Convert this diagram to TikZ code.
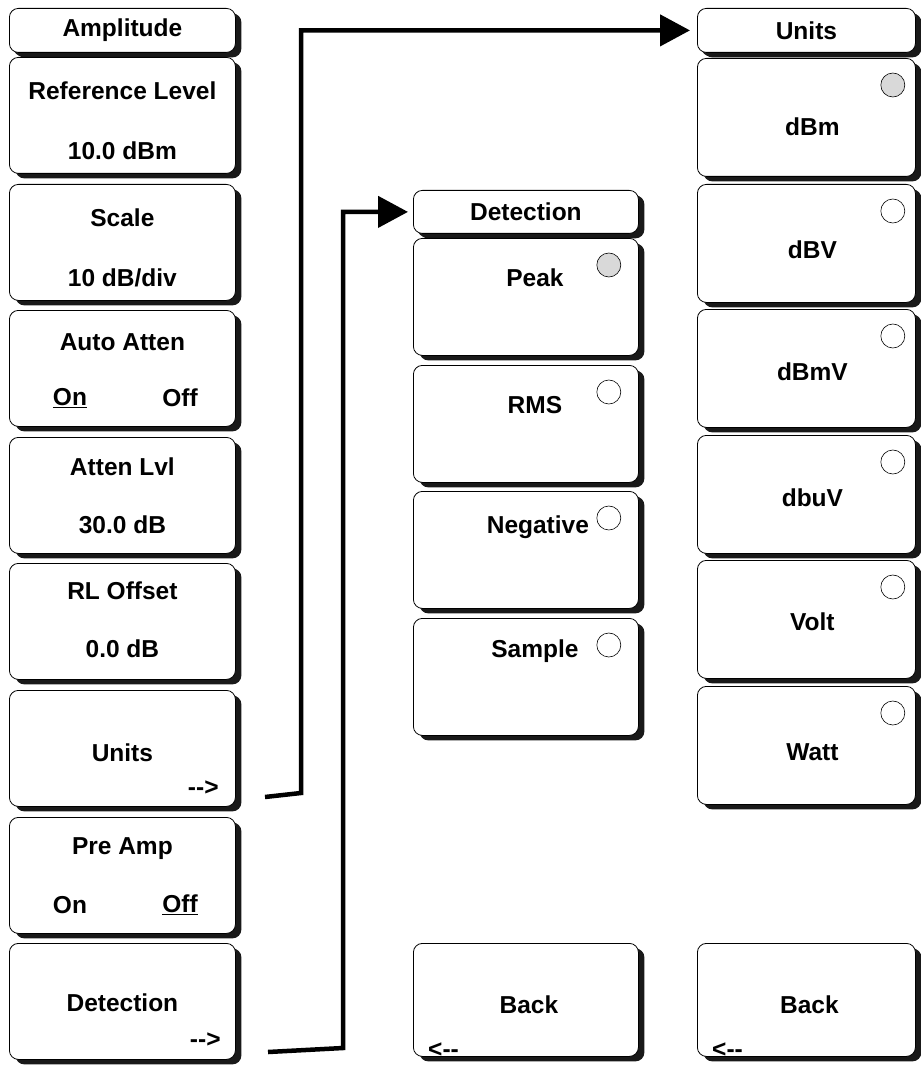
\documentclass[tikz,border=0pt]{standalone}
\usepackage{fontspec}
\setmainfont{Liberation Sans}
\usetikzlibrary{arrows.meta, shadows}

\newcommand{\twodash}{-\kern0pt-}

\begin{document}
\begin{tikzpicture}[x=1pt, y=-1pt,
    softkey/.style = {draw, fill=white, line width=0.8pt, rounded corners=9pt,
        anchor=north west, inner sep=0pt,
        drop shadow={shadow xshift=6pt, shadow yshift=-5pt, opacity=1, fill=black!90}},
    titlekey/.style = {softkey, minimum height=44pt,
        drop shadow={shadow xshift=4pt, shadow yshift=-4pt, opacity=1, fill=black!90}},
    leftkey/.style = {softkey, minimum width=226pt, minimum height=116pt},
    midkey/.style = {softkey, minimum width=225pt, minimum height=117pt},
    rightkey/.style = {softkey, minimum width=218pt, minimum height=118pt},
    keytext/.style = {font=\fontsize{24.5}{29}\selectfont\bfseries, inner sep=0pt},
    radio/.style = {draw, circle, fill=white, minimum size=24pt, inner sep=0pt, line width=0.6pt},
    picked/.style = {radio, fill=black!15},
    link/.style = {line width=4.5pt, -{Triangle[length=30pt, width=31pt]}}]

    \useasboundingbox (0,0) rectangle (920,1067);

    % amplitude menu
    \node[titlekey, minimum width=226pt] (amp) at (9,8) {};
    \node[keytext] at (amp.center) {Amplitude};

    \node[leftkey] (refLvl) at (9,57) {};
    \node[keytext] at ([yshift=-34pt]refLvl.north) {Reference Level};
    \node[keytext] at ([yshift=-94pt]refLvl.north) {10.0 dBm};

    \node[leftkey] (scale) at (9,184) {};
    \node[keytext] at ([yshift=-34pt]scale.north) {Scale};
    \node[keytext] at ([yshift=-94pt]scale.north) {10 dB/div};

    \node[leftkey] (autoAtt) at (9,310) {};
    \node[keytext] at ([yshift=-32pt]autoAtt.north) {Auto Atten};
    \node[keytext] at ([xshift=61pt, yshift=-88pt]autoAtt.north west) {\underline{On}};
    \node[keytext] at ([xshift=171pt, yshift=-88pt]autoAtt.north west) {Off};

    \node[leftkey] (attLvl) at (9,437) {};
    \node[keytext] at ([yshift=-30pt]attLvl.north) {Atten Lvl};
    \node[keytext] at ([yshift=-88pt]attLvl.north) {30.0 dB};

    \node[leftkey] (rlOff) at (9,563) {};
    \node[keytext] at ([yshift=-28pt]rlOff.north) {RL Offset};
    \node[keytext] at ([yshift=-86pt]rlOff.north) {0.0 dB};

    \node[leftkey] (units) at (9,690) {};
    \node[keytext] at ([yshift=-63pt]units.north) {Units};
    \node[keytext, anchor=east] at ([xshift=-17pt, yshift=-98pt]units.north east) {\twodash>};

    \node[leftkey] (preAmp) at (9,817) {};
    \node[keytext] at ([yshift=-32pt]preAmp.north) {Pre Amp};
    \node[keytext] at ([xshift=61pt, yshift=-88pt]preAmp.north west) {On};
    \node[keytext] at ([xshift=171pt, yshift=-88pt]preAmp.north west) {\underline{Off}};

    \node[leftkey] (detect) at (9,943) {};
    \node[keytext] at ([yshift=-60pt]detect.north) {Detection};
    \node[keytext, anchor=east] at ([xshift=-15pt, yshift=-97pt]detect.north east) {\twodash>};

    % detection menu
    \node[titlekey, minimum width=225pt, minimum height=43pt] (detHead) at (413,190) {};
    \node[keytext] at (detHead.center) {Detection};

    \node[midkey] (peak) at (413,238) {};
    \node[keytext] at ([xshift=9pt, yshift=-40pt]peak.north) {Peak};
    \node[picked] at ([xshift=-30pt, yshift=-27pt]peak.north east) {};

    \node[midkey] (rms) at (413,365) {};
    \node[keytext] at ([xshift=9pt, yshift=-40pt]rms.north) {RMS};
    \node[radio] at ([xshift=-30pt, yshift=-27pt]rms.north east) {};

    \node[midkey] (negative) at (413,491) {};
    \node[keytext] at ([xshift=12pt, yshift=-36pt]negative.north) {Negative};
    \node[radio] at ([xshift=-30pt, yshift=-27pt]negative.north east) {};

    \node[midkey] (sample) at (413,618) {};
    \node[keytext] at ([xshift=9pt, yshift=-33pt]sample.north) {Sample};
    \node[radio] at ([xshift=-30pt, yshift=-27pt]sample.north east) {};

    \node[midkey, minimum height=113pt] (detBack) at (413,943) {};
    \node[keytext] at ([xshift=3pt, yshift=-62pt]detBack.north) {Back};
    \node[keytext, anchor=west] at ([xshift=15pt, yshift=-107pt]detBack.north west) {<\twodash};

    % units menu
    \node[titlekey, minimum width=218pt] (unitsHead) at (697,8) {};
    \node[keytext] at (unitsHead.center) {Units};

    \node[rightkey] (dbm) at (697,58) {};
    \node[keytext] at ([xshift=6pt, yshift=-69pt]dbm.north) {dBm};
    \node[picked] at ([xshift=-23pt, yshift=-27pt]dbm.north east) {};

    \node[rightkey] (dbv) at (697,184) {};
    \node[keytext] at ([xshift=6pt, yshift=-66pt]dbv.north) {dBV};
    \node[radio] at ([xshift=-23pt, yshift=-27pt]dbv.north east) {};

    \node[rightkey] (dbmv) at (697,309) {};
    \node[keytext] at ([xshift=6pt, yshift=-63pt]dbmv.north) {dBmV};
    \node[radio] at ([xshift=-23pt, yshift=-27pt]dbmv.north east) {};

    \node[rightkey] (dbuv) at (697,435) {};
    \node[keytext] at ([xshift=6pt, yshift=-63pt]dbuv.north) {dbuV};
    \node[radio] at ([xshift=-23pt, yshift=-27pt]dbuv.north east) {};

    \node[rightkey] (volt) at (697,560) {};
    \node[keytext] at ([xshift=6pt, yshift=-62pt]volt.north) {Volt};
    \node[radio] at ([xshift=-23pt, yshift=-27pt]volt.north east) {};

    \node[rightkey] (watt) at (697,686) {};
    \node[keytext] at ([xshift=6pt, yshift=-66pt]watt.north) {Watt};
    \node[radio] at ([xshift=-23pt, yshift=-27pt]watt.north east) {};

    \node[rightkey, minimum height=113pt] (unitsBack) at (697,943) {};
    \node[keytext] at ([xshift=3pt, yshift=-62pt]unitsBack.north) {Back};
    \node[keytext, anchor=west] at ([xshift=15pt, yshift=-107pt]unitsBack.north west) {<\twodash};

    % links between menus
    \coordinate (unitsFrom) at (265,797);
    \coordinate (detFrom) at (268,1052);
    \draw[link, shorten >=7pt] (unitsFrom) -- ++(36,-4) |- (unitsHead.west);
    \draw[link, shorten >=5pt] (detFrom) -- ++(75,-4) |- (detHead.west);
\end{tikzpicture}
\end{document}
